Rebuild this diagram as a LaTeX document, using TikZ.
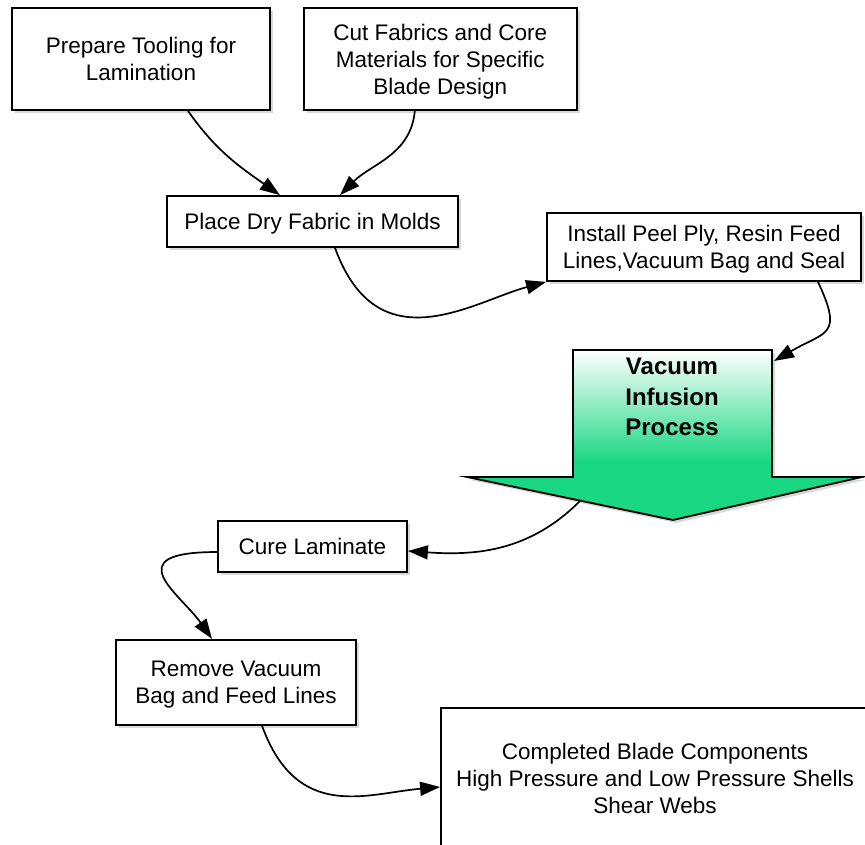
\documentclass[tikz,border=0pt]{standalone}
\usepackage{fontspec}
\setmainfont{Liberation Sans}
\usepackage{tikz}
\usetikzlibrary{arrows.meta,positioning,shadows}

\definecolor{vipgreen}{RGB}{25,215,130}
\pgfdeclareverticalshading{vipshade}{100bp}{color(0bp)=(vipgreen); color(42bp)=(vipgreen); color(75bp)=(white); color(100bp)=(white)}

\begin{document}
\begin{tikzpicture}[
  x=1pt,y=-1pt,
  box/.style={rectangle,draw=black,line width=1.8pt,fill=white,inner sep=0pt,
              drop shadow={shadow xshift=3pt,shadow yshift=-3pt,opacity=0.3},
              font=\fontsize{22.5}{27}\selectfont,align=center,text depth=0pt},
  bigarrow/.style={draw=black,line width=1.8pt,shading=vipshade,
              drop shadow={shadow xshift=3pt,shadow yshift=-3pt,opacity=0.3}},
  viptext/.style={font=\bfseries\fontsize{24}{30.5}\selectfont,align=center,inner sep=0pt},
  arr/.style={-{Triangle[length=20pt,width=14pt]},line width=1.7pt}
]
  \clip (0,0) rectangle (865,844);
  \fill[white] (0,0) rectangle (865,844);

  \node[box,minimum width=258pt,minimum height=102pt] (prep) at (141,59) {Prepare Tooling for\\Lamination};
  \node[box,right=32pt of prep,minimum width=273pt,minimum height=102pt] (cut) {Cut Fabrics and Core\\Materials for Specific\\Blade Design};
  \node[box,minimum width=291pt,minimum height=51pt] (place) at (312.5,221.5) {Place Dry Fabric in Molds};
  \node[box,minimum width=314pt,minimum height=68pt] (install) at (704,247) {Install Peel Ply, Resin Feed\\Lines,Vacuum Bag and Seal};

  % vacuum infusion arrow
  \path[bigarrow] (573,350) -- (772,350) -- (772,477) -- (862,477) -- (673,520)
        -- (467,477) -- (573,477) -- cycle;
  \node[viptext] (vip) at (672,397) {Vacuum\\Infusion\\Process};
  \coordinate (vipin) at (774,361);
  \coordinate (vipout) at (580,501);

  \node[box,minimum width=189pt,minimum height=51pt] (cure) at (312.5,546.5) {Cure Laminate};
  \node[box,below=66pt of cure,xshift=-76.5pt,minimum width=240pt,minimum height=85pt] (remove) {Remove Vacuum\\Bag and Feed Lines};
  \node[box,minimum width=428pt,minimum height=140pt] (done) at (655,778) {Completed Blade Components\\High Pressure and Low Pressure Shells\\Shear Webs};

  \draw[arr] ([xshift=47pt]prep.south) to[out=-55,in=145] ([xshift=-32.5pt]place.north);
  \draw[arr] ([xshift=-25.5pt]cut.south) to[out=-95,in=45] ([xshift=27.5pt]place.north);
  \draw[arr] ([xshift=22.5pt]place.south) to[out=-70,in=195,out looseness=1.5,in looseness=0.9] (install.south west);
  \draw[arr] ([xshift=114pt]install.south) to[out=-65,in=30,looseness=1.7] (vipin);
  \draw[arr] (vipout) to[out=-135,in=-4] ([yshift=-4.5pt]cure.east);
  \draw[arr] ([yshift=-5.5pt]cure.west) to[out=180,in=125,out looseness=3,in looseness=1.6] ([xshift=-24pt]remove.north);
  \draw[arr] ([xshift=26pt]remove.south) to[out=-70,in=185,out looseness=1.4] ([yshift=-9pt]done.west);
\end{tikzpicture}
\end{document}
